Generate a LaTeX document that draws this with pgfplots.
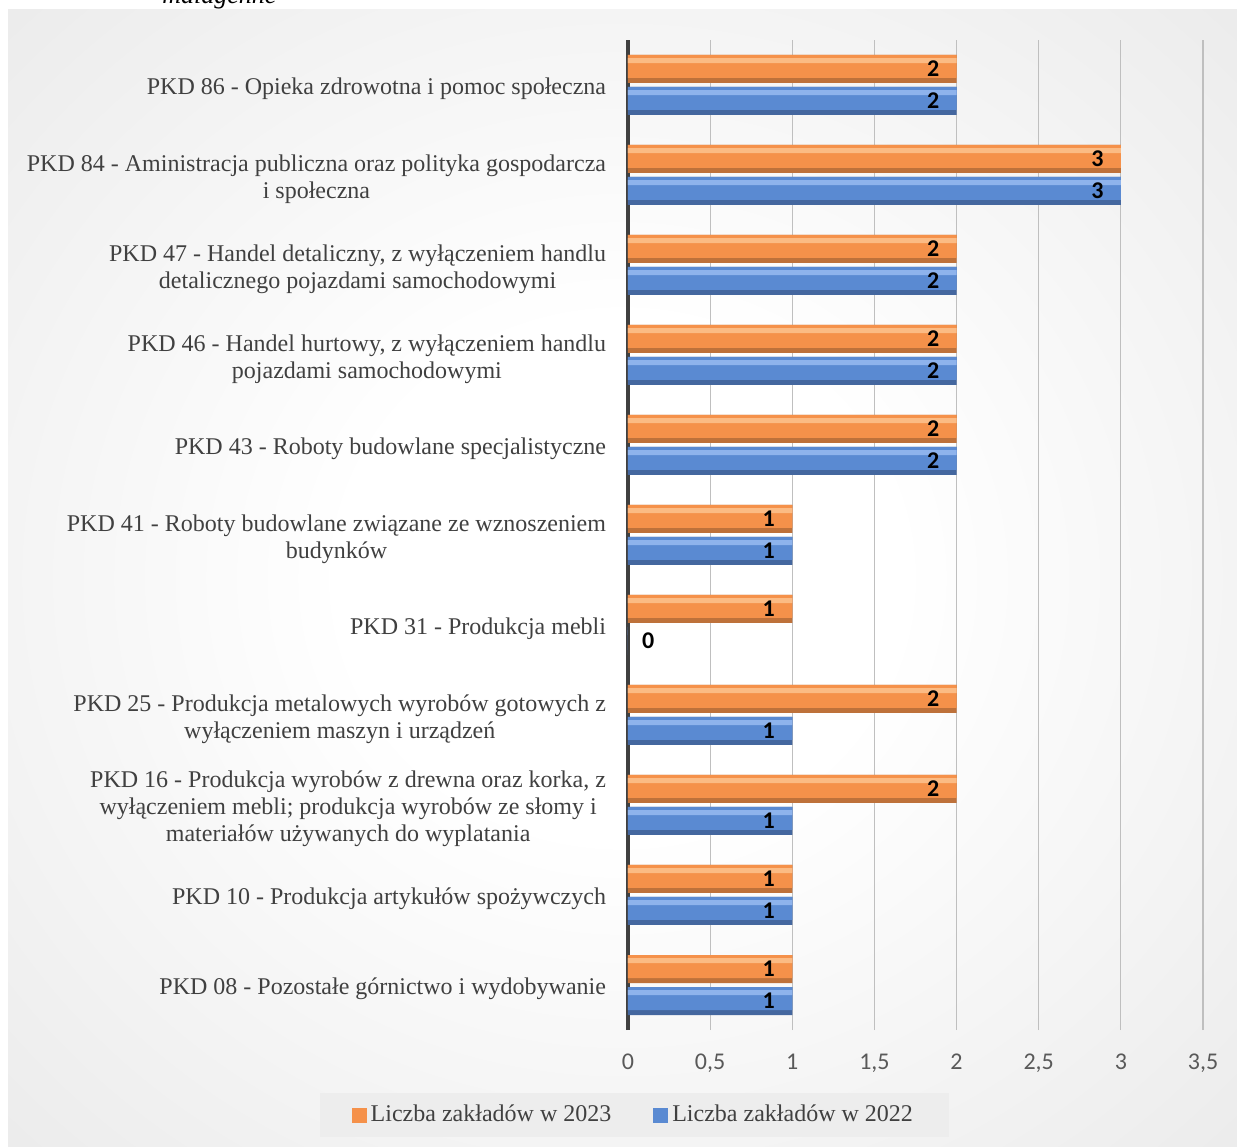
\documentclass[border=0pt]{standalone}
\usepackage{fontspec}
\setmainfont{Liberation Serif}
\newfontfamily\calibri{Carlito}
\usepackage{pgfplots}
\pgfplotsset{compat=1.18}
\definecolor{txtgray}{HTML}{404040}
\definecolor{tickgray}{HTML}{595959}
\definecolor{gridgray}{HTML}{BFBFBF}
\definecolor{orTop}{HTML}{FBBB84}
\definecolor{orMid}{HTML}{F5914A}
\definecolor{orBot}{HTML}{BE713A}
\definecolor{blTop}{HTML}{8EB3EC}
\definecolor{blMid}{HTML}{5A8AD2}
\definecolor{blBot}{HTML}{44679F}
\definecolor{bgEdge}{HTML}{E0E0E0}
\definecolor{bgCorner}{HTML}{C4C4C4}
\definecolor{legbg}{HTML}{EDEDED}
\pgfdeclareradialshading{bgshade}{\pgfpoint{0bp}{0bp}}{color(0bp)=(white); color(8bp)=(white); color(35.35bp)=(bgEdge); color(50bp)=(bgCorner)}

% data: category index, value
\pgfplotstableread{
y v23 v22
0 1 1
1 1 1
2 2 1
3 2 1
4 1 0
5 1 1
6 2 2
7 2 2
8 2 2
9 3 3
10 2 2
}\pkd

\begin{document}
\begin{tikzpicture}
\useasboundingbox (0,0) rectangle (618.5pt,573pt);
\clip (0,0) rectangle (618.5pt,573pt);
\node[anchor=base west, inner sep=0pt, font=\fontsize{13}{15}\selectfont\itshape] at (81pt,571pt) {malagenne};
\begin{scope}
  \clip (4pt,0) rectangle (618.5pt,568pt);
  \shade[shading=bgshade] (311pt-434.5pt,284pt-401.6pt) rectangle (311pt+434.5pt,284pt+401.6pt);
\end{scope}

\begin{axis}[
    at={(314pt,58pt)}, anchor=south west,
    scale only axis, width=287.5pt, height=495pt,
    xbar,
    xmin=0, xmax=3.5, ymin=-0.5, ymax=10.5,
    xtick={0,0.5,...,3.5},
    ytick={0,...,10},
    yticklabels={
      PKD 08 - Pozostałe górnictwo i wydobywanie,
      PKD 10 - Produkcja artykułów spożywczych,
      {PKD 16 - Produkcja wyrobów z drewna oraz korka, z\\wyłączeniem mebli; produkcja wyrobów ze słomy i\\materiałów używanych do wyplatania},
      {PKD 25 - Produkcja metalowych wyrobów gotowych z\\wyłączeniem maszyn i urządzeń},
      PKD 31 - Produkcja mebli,
      {PKD 41 - Roboty budowlane związane ze wznoszeniem\\budynków},
      PKD 43 - Roboty budowlane specjalistyczne,
      {PKD 46 - Handel hurtowy, z wyłączeniem handlu\\pojazdami samochodowymi},
      {PKD 47 - Handel detaliczny, z wyłączeniem handlu\\detalicznego pojazdami samochodowymi},
      {PKD 84 - Aministracja publiczna oraz polityka gospodarcza\\i społeczna},
      PKD 86 - Opieka zdrowotna i pomoc społeczna},
    /pgf/number format/use comma,
    /pgf/number format/assume math mode=true,
    axis line style={draw=none},
    tick style={draw=none},
    xmajorgrids, grid style={gridgray, line width=0.6pt},
    extra x ticks={0}, extra x tick labels={},
    extra x tick style={grid style={txtgray, line width=1.6pt}},
    yticklabel style={font=\fontsize{12}{13.5}\selectfont, text=txtgray, align=center, inner sep=0pt, xshift=-6.5pt, yshift=-2pt},
    xticklabel style={font=\calibri\fontsize{12}{14}\selectfont, text=tickgray, inner sep=0pt, yshift=-12pt},
    legend columns=2,
    legend style={at={(0.011,-0.0859)}, anchor=center, fill=legbg, draw=none,
      font=\fontsize{12}{13.5}\selectfont, text=txtgray, inner xsep=16pt, inner ysep=4pt,
      /tikz/every even column/.append style={column sep=19pt}},
    legend image code/.code={\fill[#1] (0pt,-3.75pt) rectangle (7.5pt,3.75pt);},
    lbl/.style={draw=none, fill=none, nodes near coords,
      visualization depends on={x \as \xval},
      every node near coord/.append style={font=\calibri\bfseries\fontsize{12}{14}\selectfont,
        text=black, anchor=east, inner xsep=8.5pt, inner ysep=0pt,
        xshift={ifthenelse(\xval==0,21.9pt,0pt)}}},
  ]
  % 2023 (orange), bevel drawn as three layers
  \addplot[forget plot, draw=none, fill=orBot, bar width=14pt, bar shift=8pt] table[x=v23, y=y] {\pkd};
  \addplot[draw=none, fill=orMid, bar width=11.5pt, bar shift=9.25pt] table[x=v23, y=y] {\pkd};
  \addplot[forget plot, draw=none, fill=orTop, bar width=2.5pt, bar shift=12.2pt] table[x=v23, y=y] {\pkd};
  \addplot[forget plot, lbl, bar width=14pt, bar shift=8pt] table[x=v23, y=y] {\pkd};
  % 2022 (blue)
  \addplot[forget plot, draw=none, fill=blBot, bar width=14pt, bar shift=-8pt] table[x=v22, y=y] {\pkd};
  \addplot[draw=none, fill=blMid, bar width=11.5pt, bar shift=-6.75pt] table[x=v22, y=y] {\pkd};
  \addplot[forget plot, draw=none, fill=blTop, bar width=2.5pt, bar shift=-3.8pt] table[x=v22, y=y] {\pkd};
  \addplot[forget plot, lbl, bar width=14pt, bar shift=-8pt] table[x=v22, y=y] {\pkd};
  \legend{Liczba zakładów w 2023, Liczba zakładów w 2022}
\end{axis}
\end{tikzpicture}
\end{document}
